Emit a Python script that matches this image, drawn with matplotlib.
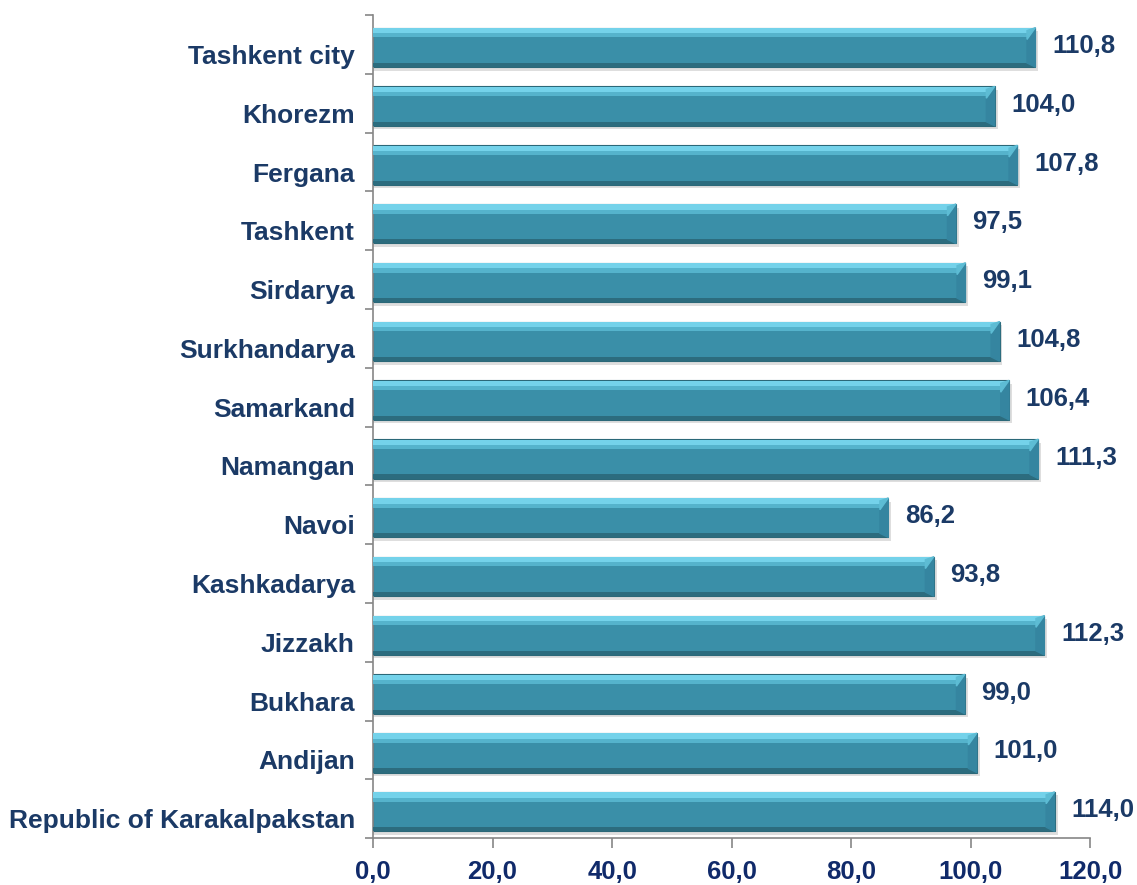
import matplotlib.pyplot as plt
from matplotlib.patches import Polygon
from matplotlib.ticker import FixedLocator

plt.rcParams['font.family'] = ['Liberation Sans', 'DejaVu Sans']

regions = [
    "Republic of Karakalpakstan", "Andijan", "Bukhara", "Jizzakh", "Kashkadarya",
    "Navoi", "Namangan", "Samarkand", "Surkhandarya", "Sirdarya", "Tashkent",
    "Fergana", "Khorezm", "Tashkent city"
]
values = [114.0, 101.0, 99.0, 112.3, 93.8, 86.2, 111.3, 106.4, 104.8, 99.1, 97.5,
          107.8, 104.0, 110.8]
x_ticks = [0, 20, 40, 60, 80, 100, 120]

navy = '#1B3A66'
fig = plt.figure(figsize=(11.37, 8.85), dpi=100)
ax = fig.add_axes([0.328, 0.053, 0.631, 0.930])

pos = [i - 0.05 for i in range(len(regions))]
h = 0.67
# soft shadow
ax.barh([p - 0.06 for p in pos], [v + 0.5 for v in values], height=h, left=0,
        color='#C8C8C8', alpha=0.6, zorder=1)
# main body
ax.barh(pos, values, height=h, color='#3A8FA8', edgecolor='#2B6878',
        linewidth=0.8, zorder=2)
# top highlight strips
ax.barh([p + h / 2 - 0.05 for p in pos], values, height=0.09,
        color='#74D2EA', zorder=3)
ax.barh([p + h / 2 - 0.13 for p in pos], values, height=0.07,
        color='#55B3CC', zorder=3)
# bottom dark strip
ax.barh([p - h / 2 + 0.035 for p in pos], values, height=0.07,
        color='#2C6C7E', zorder=3)
# right-end bevel
for p, v in zip(pos, values):
    ax.add_patch(Polygon([(v, p + h / 2), (v - 1.4, p + h / 2 - 0.2),
                          (v - 1.4, p - h / 2 + 0.07), (v, p - h / 2)],
                         closed=True, color='#3585A0', zorder=4))
    ax.add_patch(Polygon([(v, p + h / 2), (v - 1.4, p + h / 2 - 0.2),
                          (v - 1.4, p + h / 2 - 0.05)],
                         closed=True, color='#5DBCD4', zorder=5))

for p, v in zip(pos, values):
    ax.annotate(f"{v:.1f}".replace('.', ','), (v, p), xytext=(12, 1),
                textcoords='offset points', va='center', ha='left',
                fontsize=18.5, fontweight='bold', color=navy)

ax.set_xlim(0, 120)
ax.set_ylim(-0.5, len(regions) - 0.5)
ax.set_xticks(x_ticks)
ax.set_xticklabels([f"{t:.1f}".replace('.', ',') for t in x_ticks],
                   fontsize=18.5, fontweight='bold', color='#102A6A')
ax.set_yticks([i - 0.17 for i in range(len(regions))])
ax.set_yticklabels(regions, fontsize=19, fontweight='bold', color=navy)
ax.yaxis.set_minor_locator(FixedLocator([i - 0.5 for i in range(len(regions) + 1)]))
ax.tick_params(axis='y', which='major', length=0, pad=13)
ax.tick_params(axis='y', which='minor', length=6, color='#868686', width=1.2)
ax.tick_params(axis='x', length=7, color='#868686', width=1.2, pad=9)

for s in ['top', 'right']:
    ax.spines[s].set_visible(False)
for s in ['left', 'bottom']:
    ax.spines[s].set_color('#868686')
    ax.spines[s].set_linewidth(1.2)

plt.savefig('out.png', dpi=100)
